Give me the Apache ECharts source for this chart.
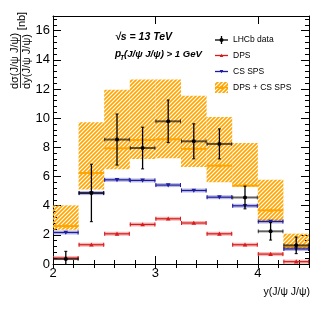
<!DOCTYPE html>
<html><head><meta charset="utf-8">
<script src="https://cdn.jsdelivr.net/npm/echarts@6/dist/echarts.min.js"></script>
<style>html,body{margin:0;padding:0;background:#fff}#c{width:327px;height:316px}</style>
</head><body><div id="c"></div><script>
// ---- data ----
const binEdges   = [2.0, 2.25, 2.5, 2.75, 3.0, 3.25, 3.5, 3.75, 4.0, 4.25, 4.5];
const lhcbValue  = [0.34, 4.87, 8.53, 7.95, 9.78, 8.41, 8.23, 4.56, 2.24, 1.28];
const lhcbError  = [0.53, 1.97, 1.75, 1.43, 1.46, 1.20, 1.03, 0.78, 0.60, 0.57];
const dpsValue   = [0.41, 1.32, 2.07, 2.71, 3.10, 2.81, 2.07, 1.32, 0.68, 0.16];
const csSpsValue = [2.16, 4.86, 5.77, 5.73, 5.41, 5.04, 4.58, 3.99, 2.91, 1.03];
const sumValue   = [2.60, 6.24, 7.93, 8.50, 8.55, 7.89, 6.74, 5.37, 3.68, 1.21];
const sumLow     = [2.35, 5.10, 6.50, 7.20, 7.25, 6.65, 5.60, 5.30, 2.92, 1.03];
const sumHigh    = [4.02, 9.71, 11.95, 12.64, 12.64, 11.54, 10.08, 8.30, 5.78, 2.08];
const xTickLabels = [2, 3, 4];
const yTickLabels = [0, 2, 4, 6, 8, 10, 12, 14, 16];

const FONT = '"Liberation Sans", Arial, Helvetica, sans-serif';
const ORANGE = '#ffa500';
const RED = '#d81a1a';
const BLUE = '#1c1ca0';

// hatch pattern
const pc = document.createElement('canvas');
pc.width = 4; pc.height = 4;
(function(){
  const g = pc.getContext('2d');
  g.strokeStyle = ORANGE; g.lineWidth = 1.7;
  g.beginPath();
  g.moveTo(-1, 5); g.lineTo(5, -1);
  g.moveTo(-1, 1); g.lineTo(1, -1);
  g.moveTo(3, 5); g.lineTo(5, 3);
  g.stroke();
})();
const hatch = { image: pc, repeat: 'repeat' };

const bins = (extra) => binEdges.slice(0, -1).map((e, i) => [e, binEdges[i + 1]].concat(extra.map(a => a[i])));

function tri(cx, cy, s, up, color) {
  const pts = up ? [[cx - s, cy + s * 0.8], [cx + s, cy + s * 0.8], [cx, cy - s]]
                 : [[cx - s, cy - s * 0.8], [cx + s, cy - s * 0.8], [cx, cy + s]];
  return { type: 'polygon', shape: { points: pts }, style: { fill: color } };
}

function lineItem(color, band, up) {
  return function (params, api) {
    const x0 = api.value(0), x1 = api.value(1), v = api.value(2);
    const a = api.coord([x0, v]), b = api.coord([x1, v]), m = api.coord([(x0 + x1) / 2, v]);
    return { type: 'group', children: [
      { type: 'line', shape: { x1: a[0], y1: a[1], x2: b[0], y2: b[1] }, style: { stroke: band, lineWidth: 4 } },
      { type: 'line', shape: { x1: a[0], y1: a[1], x2: b[0], y2: b[1] }, style: { stroke: color, lineWidth: 1.2 } },
      { type: 'line', shape: { x1: a[0] + 0.5, y1: a[1] - 2, x2: a[0] + 0.5, y2: a[1] + 2 }, style: { stroke: color, lineWidth: 1 } },
      { type: 'line', shape: { x1: b[0] - 0.5, y1: b[1] - 2, x2: b[0] - 0.5, y2: b[1] + 2 }, style: { stroke: color, lineWidth: 1 } },
      tri(m[0], m[1], 2.3, up, color)
    ] };
  };
}

const option = {
  animation: false,
  backgroundColor: '#fff',
  grid: { left: 53, right: 18, top: 16, bottom: 52, show: false },
  xAxis: [
    { type: 'value', min: 2, max: 4.5, interval: 1, position: 'bottom',
      axisLine: { show: true, onZero: false, lineStyle: { color: '#000', width: 1 } },
      axisTick: { show: true, inside: true, length: 8, lineStyle: { color: '#000' } },
      axisLabel: { show: true, color: '#000', fontSize: 13, fontFamily: FONT, margin: 3,
        formatter: v => xTickLabels.includes(v) ? String(v) : '' },
      splitLine: { show: false } },
    { type: 'value', min: 2, max: 4.5, interval: 0.2, position: 'bottom',
      axisLine: { show: false }, axisTick: { show: true, inside: true, length: 4, lineStyle: { color: '#000' } },
      axisLabel: { show: false }, splitLine: { show: false } },
    { type: 'value', min: 2, max: 4.5, interval: 1, position: 'top',
      axisLine: { show: true, onZero: false, lineStyle: { color: '#000', width: 1 } },
      axisTick: { show: true, inside: true, length: 8, lineStyle: { color: '#000' } },
      axisLabel: { show: false }, splitLine: { show: false } },
    { type: 'value', min: 2, max: 4.5, interval: 0.2, position: 'top',
      axisLine: { show: false }, axisTick: { show: true, inside: true, length: 4, lineStyle: { color: '#000' } },
      axisLabel: { show: false }, splitLine: { show: false } }
  ],
  yAxis: [
    { type: 'value', min: 0, max: 17, interval: 2, position: 'left',
      axisLine: { show: true, onZero: false, lineStyle: { color: '#000', width: 1 } },
      axisTick: { show: true, inside: true, length: 8, lineStyle: { color: '#000' } },
      axisLabel: { show: true, color: '#000', fontSize: 13, fontFamily: FONT, margin: 3,
        formatter: v => yTickLabels.includes(v) ? String(v) : '' },
      splitLine: { show: false } },
    { type: 'value', min: 0, max: 17, interval: 0.4, position: 'left',
      axisLine: { show: false }, axisTick: { show: true, inside: true, length: 4, lineStyle: { color: '#000' } },
      axisLabel: { show: false }, splitLine: { show: false } },
    { type: 'value', min: 0, max: 17, interval: 2, position: 'right',
      axisLine: { show: true, onZero: false, lineStyle: { color: '#000', width: 1 } },
      axisTick: { show: true, inside: true, length: 8, lineStyle: { color: '#000' } },
      axisLabel: { show: false }, splitLine: { show: false } },
    { type: 'value', min: 0, max: 17, interval: 0.4, position: 'right',
      axisLine: { show: false }, axisTick: { show: true, inside: true, length: 4, lineStyle: { color: '#000' } },
      axisLabel: { show: false }, splitLine: { show: false } }
  ],
  series: [
    { name: 'DPS + CS SPS', type: 'custom', clip: true, data: bins([sumLow, sumHigh, sumValue]),
      renderItem: function (params, api) {
        const x0 = api.value(0), x1 = api.value(1), lo = api.value(2), hi = api.value(3), c = api.value(4);
        const p0 = api.coord([x0, hi]), p1 = api.coord([x1, lo]);
        const c0 = api.coord([x0, c]), c1 = api.coord([x1, c]), m = api.coord([(x0 + x1) / 2, c]);
        return { type: 'group', children: [
          { type: 'rect', shape: { x: p0[0], y: p0[1], width: p1[0] - p0[0], height: p1[1] - p0[1] }, style: { fill: hatch } },
          { type: 'line', shape: { x1: c0[0], y1: c0[1], x2: c1[0], y2: c1[1] }, style: { stroke: ORANGE, lineWidth: 2 } },
          { type: 'rect', shape: { x: m[0] - 1.5, y: m[1] - 1.5, width: 3, height: 3 }, style: { fill: ORANGE } }
        ] };
      } },
    { name: 'DPS', type: 'custom', clip: true, data: bins([dpsValue]),
      renderItem: lineItem(RED, 'rgba(216,26,26,0.3)', true) },
    { name: 'CS SPS', type: 'custom', clip: true, data: bins([csSpsValue]),
      renderItem: lineItem(BLUE, 'rgba(28,28,160,0.3)', false) },
    { name: 'LHCb data', type: 'custom', clip: true, data: bins([lhcbValue, lhcbError]),
      renderItem: function (params, api) {
        const x0 = api.value(0), x1 = api.value(1), v = api.value(2), e = api.value(3);
        const xc = (x0 + x1) / 2;
        const a = api.coord([x0, v]), b = api.coord([x1, v]), m = api.coord([xc, v]);
        const up = api.coord([xc, v + e]), dn = api.coord([xc, v - e]);
        const hc = 'rgba(0,0,0,0.62)';
        return { type: 'group', children: [
          { type: 'line', shape: { x1: a[0], y1: a[1], x2: b[0], y2: b[1] }, style: { stroke: hc, lineWidth: 2 } },
          { type: 'line', shape: { x1: a[0] + 0.5, y1: a[1] - 2, x2: a[0] + 0.5, y2: a[1] + 2 }, style: { stroke: hc, lineWidth: 1 } },
          { type: 'line', shape: { x1: b[0] - 0.5, y1: b[1] - 2, x2: b[0] - 0.5, y2: b[1] + 2 }, style: { stroke: hc, lineWidth: 1 } },
          { type: 'line', shape: { x1: up[0], y1: up[1], x2: dn[0], y2: dn[1] }, style: { stroke: '#000', lineWidth: 1.3 } },
          { type: 'line', shape: { x1: up[0] - 1.5, y1: up[1], x2: up[0] + 1.5, y2: up[1] }, style: { stroke: '#000', lineWidth: 1 } },
          { type: 'line', shape: { x1: dn[0] - 1.5, y1: dn[1], x2: dn[0] + 1.5, y2: dn[1] }, style: { stroke: '#000', lineWidth: 1 } },
          { type: 'circle', shape: { cx: m[0], cy: m[1], r: 2 }, style: { fill: '#000' } }
        ] };
      } }
  ],
  graphic: { elements: [
    // y-axis title (fraction)
    { type: 'text', x: 14.5, y: 61, rotation: Math.PI / 2,
      style: { text: 'dσ(J/ψ J/ψ)', font: '11px ' + FONT, fill: '#000', textAlign: 'center', textVerticalAlign: 'middle' } },
    { type: 'line', shape: { x1: 20.5, y1: 35, x2: 20.5, y2: 88 }, style: { stroke: '#000', lineWidth: 0.8 } },
    { type: 'text', x: 27, y: 61.5, rotation: Math.PI / 2,
      style: { text: 'dy(J/ψ J/ψ)', font: '11px ' + FONT, fill: '#000', textAlign: 'center', textVerticalAlign: 'middle' } },
    { type: 'text', x: 21.5, y: 21, rotation: Math.PI / 2,
      style: { text: '[nb]', font: '11px ' + FONT, fill: '#000', textAlign: 'center', textVerticalAlign: 'middle' } },
    // x-axis title
    { type: 'text', x: 310, y: 292,
      style: { text: 'y(J/ψ J/ψ)', font: '10.5px ' + FONT, fill: '#000', textAlign: 'right', textVerticalAlign: 'middle' } },
    // header texts
    { type: 'text', x: 115, y: 37,
      style: { text: '√s = 13 TeV', font: 'italic bold 10.5px ' + FONT, fill: '#000', textAlign: 'left', textVerticalAlign: 'middle' } },
    { type: 'text', x: 115, y: 54,
      style: { text: 'p', font: 'italic bold 10px ' + FONT, fill: '#000', textAlign: 'left', textVerticalAlign: 'middle' } },
    { type: 'text', x: 120, y: 58,
      style: { text: 'T', font: 'italic bold 7px ' + FONT, fill: '#000', textAlign: 'left', textVerticalAlign: 'middle' } },
    { type: 'text', x: 124, y: 54,
      style: { text: '(J/ψ J/ψ) > 1 GeV', font: 'italic bold 9.6px ' + FONT, fill: '#000', textAlign: 'left', textVerticalAlign: 'middle' } },
    // legend: LHCb data
    { type: 'line', shape: { x1: 215, y1: 40, x2: 228, y2: 40 }, style: { stroke: '#000', lineWidth: 1.3 } },
    { type: 'line', shape: { x1: 221.5, y1: 36, x2: 221.5, y2: 44 }, style: { stroke: '#000', lineWidth: 1.3 } },
    { type: 'circle', shape: { cx: 221.5, cy: 40, r: 2 }, style: { fill: '#000' } },
    { type: 'text', x: 233, y: 40, style: { text: 'LHCb data', font: '8.5px ' + FONT, fill: '#000', textAlign: 'left', textVerticalAlign: 'middle' } },
    // legend: DPS
    { type: 'line', shape: { x1: 215, y1: 55.5, x2: 228, y2: 55.5 }, style: { stroke: RED, lineWidth: 1.3 } },
    tri(221.5, 55.5, 1.8, true, RED),
    { type: 'text', x: 233, y: 55.5, style: { text: 'DPS', font: '8.5px ' + FONT, fill: '#000', textAlign: 'left', textVerticalAlign: 'middle' } },
    // legend: CS SPS
    { type: 'line', shape: { x1: 215, y1: 71.5, x2: 228, y2: 71.5 }, style: { stroke: BLUE, lineWidth: 1.3 } },
    tri(221.5, 71.5, 1.8, false, BLUE),
    { type: 'text', x: 233, y: 71.5, style: { text: 'CS SPS', font: '8.5px ' + FONT, fill: '#000', textAlign: 'left', textVerticalAlign: 'middle' } },
    // legend: DPS + CS SPS
    { type: 'rect', shape: { x: 215, y: 82, width: 13, height: 11 }, style: { fill: hatch } },
    { type: 'line', shape: { x1: 215, y1: 87.5, x2: 228, y2: 87.5 }, style: { stroke: ORANGE, lineWidth: 1.5 } },
    { type: 'rect', shape: { x: 220, y: 86, width: 3, height: 3 }, style: { fill: ORANGE } },
    { type: 'text', x: 233, y: 87.5, style: { text: 'DPS + CS SPS', font: '8.5px ' + FONT, fill: '#000', textAlign: 'left', textVerticalAlign: 'middle' } }
  ] }
};

const chart = echarts.init(document.getElementById('c'), null, { renderer: 'canvas' });
chart.setOption(option);
</script></body></html>
